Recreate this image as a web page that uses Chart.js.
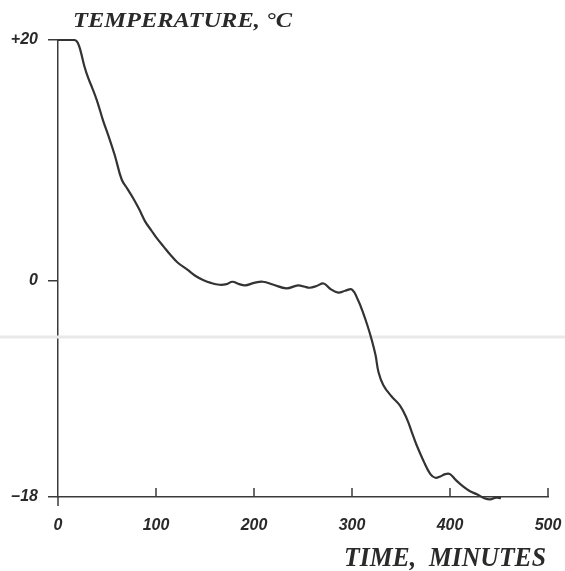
<!DOCTYPE html>
<html>
<head>
<meta charset="utf-8">
<script src="https://cdn.jsdelivr.net/npm/chart.js@4.4.0/dist/chart.umd.min.js"></script>
<style>
  html, body { margin: 0; padding: 0; background: #fff; }
  #wrap { width: 565px; height: 571px; position: relative; }
</style>
</head>
<body>
<div id="wrap"><canvas id="coolingChart"></canvas></div>
<script>
// time in minutes and temperature in deg C
const timeMin = [0, 10, 17, 20, 23, 27, 31, 35, 40, 46, 52, 58, 65, 71, 77, 83, 89, 95, 101, 108,
  114, 122, 132, 140, 148, 156, 165, 172, 178, 185, 191, 200, 209, 220, 233, 245, 251, 257, 264,
  271, 278, 286, 293, 300, 306, 311, 316, 320, 324, 327, 332, 340, 349, 356, 361, 366, 373, 380,
  385, 390, 395, 400, 406, 413, 420, 428, 435, 441, 447, 452];
const tempC = [20, 20, 20, 19.8, 19.1, 17.8, 16.8, 16.0, 14.9, 13.3, 11.9, 10.4, 8.4, 7.6, 6.8,
  5.9, 4.9, 4.2, 3.5, 2.8, 2.2, 1.5, 0.9, 0.4, 0.05, -0.2, -0.35, -0.3, -0.1, -0.3, -0.4, -0.2,
  -0.1, -0.35, -0.65, -0.4, -0.5, -0.6, -0.45, -0.25, -0.7, -1.0, -0.85, -0.75, -1.6, -2.6, -3.8,
  -4.9, -6.2, -7.6, -8.7, -9.6, -10.4, -11.5, -12.6, -13.7, -15.0, -16.1, -16.4, -16.3, -16.1,
  -16.1, -16.6, -17.1, -17.5, -17.8, -18.1, -18.2, -18.05, -18.1];
const xTicks = [0, 100, 200, 300, 400, 500];
const yTicks = [-18, 0, 20];
const yTickLabels = ['\u201318', '0', '+20'];

const axisColor = '#3a3a3a';
const tickFont = { family: 'Liberation Sans', size: 16, style: 'italic', weight: 'bold' };

// hand drawn axis captions + inward ticks on the time axis
const captions = {
  id: 'captions',
  beforeDatasetsDraw(chart) {
    const c = chart.ctx;
    const y = chart.scales.y;
    // faint scan streak across the sheet
    c.save();
    c.strokeStyle = '#e9e9e9';
    c.lineWidth = 3;
    c.beginPath();
    c.moveTo(0, y.getPixelForValue(-4.7));
    c.lineTo(chart.width, y.getPixelForValue(-4.7));
    c.stroke();
    c.restore();
  },
  afterDraw(chart) {
    const c = chart.ctx;
    const x = chart.scales.x;
    const base = chart.chartArea.bottom;
    c.save();
    c.strokeStyle = axisColor;
    c.lineWidth = 1.5;
    xTicks.forEach(v => {
      const px = x.getPixelForValue(v);
      c.beginPath();
      if (v === 0) {
        c.moveTo(px, base);
        c.lineTo(px, base + 9);
      } else {
        c.moveTo(px, base);
        c.lineTo(px, base - 9);
      }
      c.stroke();
    });

    c.fillStyle = '#2a2a2a';
    c.textBaseline = 'alphabetic';
    function squeezed(text, px, py, size, w) {
      c.font = 'italic bold ' + size + 'px "Liberation Serif"';
      const m = c.measureText(text).width;
      c.save();
      c.translate(px, py);
      c.scale(w / m, 1);
      c.fillText(text, 0, 0);
      c.restore();
    }
    squeezed('TEMPERATURE, \u00b0C', 73, 27, 22, 219);
    squeezed('TIME,  MINUTES', 344, 566, 28, 202);
    c.restore();
  }
};

const data = {
  datasets: [{
    data: timeMin.map((t, i) => ({ x: t, y: tempC[i] })),
    borderColor: '#333333',
    borderWidth: 2.2,
    pointRadius: 0,
    tension: 0.4,
    fill: false,
    clip: 6
  }]
};

const config = {
  type: 'line',
  data: data,
  options: {
    responsive: true,
    maintainAspectRatio: false,
    animation: false,
    layout: {
      padding: { top: 40, right: 0, left: 0, bottom: 0 }
    },
    plugins: {
      legend: { display: false },
      tooltip: { enabled: false }
    },
    scales: {
      x: {
        type: 'linear',
        min: 0,
        max: 500,
        afterBuildTicks: s => { s.ticks = xTicks.map(v => ({ value: v })); },
        afterFit: s => { s.height = 74; s.paddingRight = 17; s.paddingLeft = 0; },
        grid: { display: true, drawOnChartArea: false, drawTicks: false },
        border: { color: axisColor, width: 1.5 },
        ticks: { color: '#2a2a2a', font: tickFont, padding: 19 }
      },
      y: {
        type: 'linear',
        min: -18,
        max: 20,
        afterBuildTicks: s => { s.ticks = yTicks.map(v => ({ value: v })); },
        afterFit: s => { s.width = 58; },
        grid: { drawOnChartArea: false, drawTicks: true, tickLength: 10, color: axisColor, lineWidth: 1.5 },
        border: { color: axisColor, width: 1.5 },
        ticks: {
          color: '#2a2a2a',
          font: tickFont,
          padding: 10,
          callback: v => yTickLabels[yTicks.indexOf(v)]
        }
      }
    }
  },
  plugins: [captions]
};

new Chart(document.getElementById('coolingChart').getContext('2d'), config);
</script>
</body>
</html>
